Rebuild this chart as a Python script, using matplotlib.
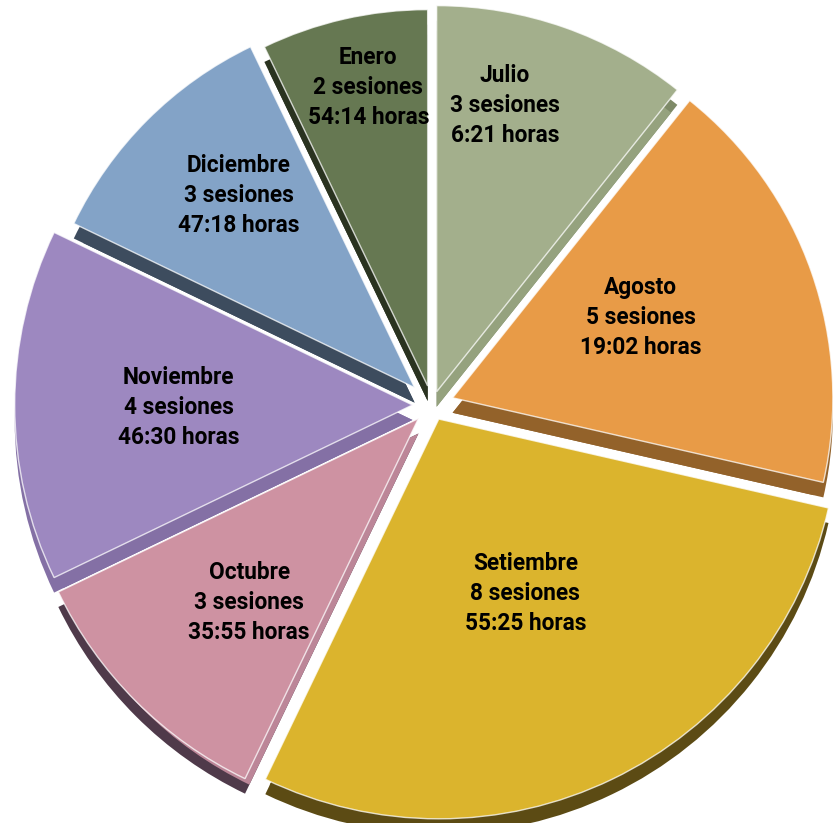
import numpy as np
import matplotlib
matplotlib.use("Agg")
import matplotlib.pyplot as plt

# sessions per month, clockwise from 12 o'clock
meses = ["Julio", "Agosto", "Setiembre", "Octubre", "Noviembre", "Diciembre", "Enero"]
sesiones = [3, 5, 8, 3, 4, 3, 2]
horas = ["6:21", "19:02", "55:25", "35:55", "46:30", "47:18", "54:14"]

top_colors = ["#A3AF8C", "#E89B47", "#DBB42D", "#CE92A2", "#9D88C0", "#83A3C7", "#667852"]
side_colors = ["#95A27E", "#93622A", "#5C4B14", "#BC8698", "#8470A5", "#3D4C5E", "#2A3320"]
rim_colors = ["#7E8A68", "#93622A", "#5C4B14", "#4F3A4A", "#8470A5", "#3D4C5E", "#2A3320"]

# layout (pixel-like data units)
W, H = 834, 823
cx, cy = 432, H - 405
R = 390
depth = 15
explode_frac = [0.036, 0.056, 0.040, 0.049, 0.050, 0.063, 0.050]
radius_scale = [0.99, 0.975, 1.025, 1.025, 1.02, 0.97, 0.965]
label_r = [0.79, 0.58, 0.54, 0.69, 0.65, 0.73, 0.83]
label_dang = [5.6, 3.5, 0.6, 2.2, 0.5, -2.3, -1.5]

fig = plt.figure(figsize=(W / 100, H / 100), dpi=100)
ax = fig.add_axes([0, 0, 1, 1])

explode = [f * R for f in explode_frac]
pie_kw = dict(startangle=90, counterclock=False, radius=R, explode=explode)

# outer rim of the 3D body
rims, _ = ax.pie(sesiones, colors=rim_colors, center=(cx, cy - depth),
                 wedgeprops=dict(linewidth=0), **pie_kw)
for w, s in zip(rims, radius_scale):
    w.set_radius(R * s)

# radial side faces
sides, _ = ax.pie(sesiones, colors=side_colors, center=(cx, cy - depth),
                  wedgeprops=dict(linewidth=0), **pie_kw)
for w, s in zip(sides, radius_scale):
    w.set_radius(R * s - 10)

tops, _ = ax.pie(sesiones, colors=top_colors, center=(cx, cy),
                 wedgeprops=dict(linewidth=1.0, edgecolor=(1, 1, 1, 0.75)), **pie_kw)
for w, s in zip(tops, radius_scale):
    w.set_radius(R * s)

fam = ["Roboto", "DejaVu Sans"]
for i, w in enumerate(tops):
    ang = np.deg2rad((w.theta1 + w.theta2) / 2 + label_dang[i])
    x = cx + label_r[i] * R * np.cos(ang)
    y = cy + label_r[i] * R * np.sin(ang)
    ax.text(x, y, f"{meses[i]}\n{sesiones[i]} sesiones\n{horas[i]} horas",
            ha="center", va="center", multialignment="center",
            fontsize=16.3, fontweight="bold", family=fam, color="black",
            linespacing=1.4)

ax.set_xlim(0, W)
ax.set_ylim(0, H)
ax.set_aspect("auto")
ax.axis("off")
fig.savefig("out.png", dpi=100)
